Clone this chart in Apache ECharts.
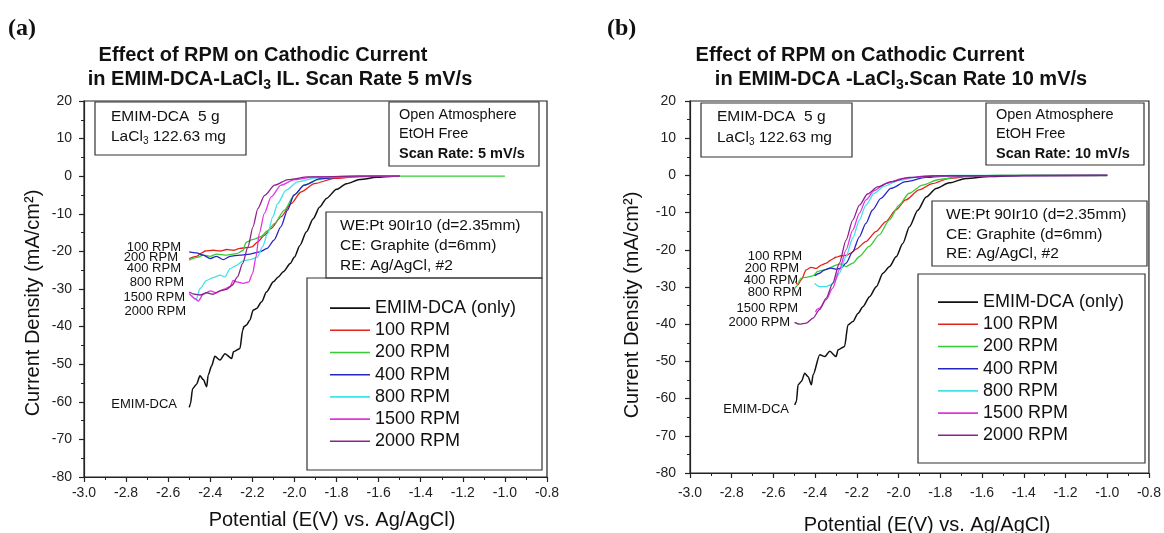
<!DOCTYPE html>
<html>
<head>
<meta charset="utf-8">
<script src="https://cdn.jsdelivr.net/npm/echarts@6/dist/echarts.min.js"></script>
<style>html,body{margin:0;padding:0;background:#fff}#c{width:1164px;height:533px}</style>
</head>
<body>
<div id="c"></div>
<script>
// ---------- data ----------
const NAMES = ['EMIM-DCA (only)', '100 RPM', '200 RPM', '400 RPM', '800 RPM', '1500 RPM', '2000 RPM'];
const COLORS = ['#111111', '#e5211d', '#35cc35', '#2525c4', '#3fe3e8', '#e233e2', '#8c238c'];
const X_TICKS = { min: -3.0, max: -0.8, interval: 0.2 };
const Y_TICKS = { min: -80, max: 20, interval: 10 };

// Panel (a): 5 mV/s
const A_EMIM = [[-2.50,-61.5],[-2.494,-60.5],[-2.484,-56.5],[-2.465,-55.3],[-2.449,-53.1],[-2.433,-54.1],[-2.417,-56.0],[-2.41,-52.9],[-2.394,-50.5],[-2.378,-47.9],[-2.354,-48.9],[-2.33,-47.2],[-2.298,-48.5],[-2.29,-46.7],[-2.259,-45.8],[-2.246,-41.0],[-2.240,-40.0],[-2.228,-39.6],[-2.212,-38.3],[-2.196,-35.6],[-2.18,-35.2],[-2.156,-33.4],[-2.133,-30.8],[-2.10,-28.1],[-2.077,-26.8],[-2.053,-25.4],[-2.02,-23.2],[-2.0,-21.5],[-1.974,-18.4],[-1.943,-14.8],[-1.911,-11.3],[-1.88,-8.2],[-1.848,-5.9],[-1.80,-3.5],[-1.753,-2.0],[-1.69,-0.9],[-1.61,-0.3],[-1.53,0],[-1.5,0]];
const A_100 = [[-2.5,-21.9],[-2.465,-21.3],[-2.44,-20.4],[-2.425,-19.9],[-2.386,-19.7],[-2.354,-19.9],[-2.322,-19.5],[-2.29,-19.7],[-2.259,-19.2],[-2.227,-19.0],[-2.203,-18.8],[-2.175,-17.5],[-2.143,-15.7],[-2.111,-13.9],[-2.064,-10.8],[-2.016,-7.3],[-1.969,-4.2],[-1.905,-1.95],[-1.81,-0.6],[-1.7,-0.1],[-1.5,0]];
const A_200 = [[-2.5,-22.3],[-2.465,-21.6],[-2.433,-21.0],[-2.4,-21.3],[-2.37,-20.7],[-2.322,-21.0],[-2.275,-20.6],[-2.243,-19.7],[-2.232,-17.8],[-2.227,-17.5],[-2.196,-16.8],[-2.16,-16.1],[-2.127,-14.5],[-2.095,-12.6],[-2.048,-9.0],[-2.0,-5.0],[-1.953,-2.4],[-1.89,-0.9],[-1.8,-0.25],[-1.6,0],[-1.0,0]];
const A_400 = [[-2.5,-20.1],[-2.465,-20.4],[-2.433,-21.0],[-2.4,-21.9],[-2.37,-21.3],[-2.338,-22.2],[-2.306,-21.3],[-2.259,-21.0],[-2.211,-20.7],[-2.164,-20.1],[-2.13,-19.2],[-2.097,-17.0],[-2.065,-13.5],[-2.033,-9.0],[-2.002,-5.0],[-1.954,-2.4],[-1.875,-0.6],[-1.75,-0.1],[-1.5,0]];
const A_800 = [[-2.488,-31.6],[-2.473,-32.8],[-2.465,-32.5],[-2.449,-29.9],[-2.417,-27.7],[-2.386,-27.0],[-2.354,-26.3],[-2.33,-26.8],[-2.306,-24.6],[-2.275,-23.7],[-2.243,-22.5],[-2.211,-22.2],[-2.176,-21.5],[-2.152,-18.8],[-2.127,-15.2],[-2.103,-10.8],[-2.08,-7.3],[-2.04,-3.7],[-1.985,-1.5],[-1.89,-0.35],[-1.7,0],[-1.5,0]];
const A_1500 = [[-2.5,-31.2],[-2.473,-32.5],[-2.457,-33.2],[-2.433,-31.4],[-2.4,-30.5],[-2.37,-31.0],[-2.338,-30.1],[-2.306,-29.4],[-2.291,-27.7],[-2.275,-28.1],[-2.243,-28.5],[-2.217,-28.1],[-2.199,-25.9],[-2.183,-21.5],[-2.167,-15.2],[-2.143,-9.9],[-2.111,-5.5],[-2.064,-2.4],[-2.0,-0.9],[-1.905,-0.2],[-1.7,0],[-1.5,0]];
const A_2000 = [[-2.5,-30.8],[-2.473,-31.4],[-2.449,-31.6],[-2.417,-31.0],[-2.386,-31.4],[-2.354,-30.5],[-2.322,-30.1],[-2.296,-29.0],[-2.271,-26.8],[-2.246,-23.2],[-2.221,-18.8],[-2.197,-13.5],[-2.174,-8.6],[-2.142,-5.1],[-2.094,-2.4],[-2.031,-0.9],[-1.936,-0.2],[-1.7,0],[-1.5,0]];

// Panel (b): 10 mV/s
const B_EMIM = [[-2.498,-61.7],[-2.49,-60.8],[-2.482,-56.3],[-2.466,-55.4],[-2.45,-53.2],[-2.434,-54.1],[-2.418,-56.3],[-2.41,-53.6],[-2.378,-48.2],[-2.354,-48.7],[-2.33,-47.3],[-2.3,-48.7],[-2.29,-46.9],[-2.259,-46.0],[-2.243,-40.2],[-2.219,-39.3],[-2.195,-37.1],[-2.171,-35.3],[-2.139,-32.6],[-2.107,-29.9],[-2.075,-26.3],[-2.043,-24.5],[-2.012,-21.9],[-1.98,-18.3],[-1.948,-13.8],[-1.908,-9.4],[-1.868,-5.8],[-1.82,-3.5],[-1.757,-2.0],[-1.677,-0.8],[-1.565,-0.3],[-1.406,0],[-1.0,0]];
const B_100 = [[-2.495,-28.5],[-2.483,-29.4],[-2.467,-28.1],[-2.443,-25.4],[-2.419,-24.7],[-2.395,-25.0],[-2.371,-24.1],[-2.347,-23.6],[-2.324,-22.7],[-2.30,-22.0],[-2.276,-21.6],[-2.252,-21.5],[-2.228,-20.9],[-2.204,-19.8],[-2.157,-17.8],[-2.109,-15.1],[-2.061,-12.4],[-2.013,-9.3],[-1.966,-6.6],[-1.902,-3.9],[-1.838,-2.2],[-1.759,-0.8],[-1.65,-0.2],[-1.5,0],[-1.0,0]];
const B_200 = [[-2.497,-30.4],[-2.491,-29.9],[-2.467,-27.6],[-2.443,-27.4],[-2.411,-27.0],[-2.387,-25.8],[-2.355,-25.4],[-2.324,-24.7],[-2.30,-24.1],[-2.276,-23.8],[-2.252,-24.5],[-2.22,-23.6],[-2.188,-21.8],[-2.141,-19.1],[-2.093,-16.0],[-2.045,-12.0],[-1.998,-8.0],[-1.95,-4.8],[-1.886,-2.6],[-1.807,-1.1],[-1.7,-0.3],[-1.55,0],[-1.0,0]];
const B_400 = [[-2.403,-27.0],[-2.379,-26.3],[-2.355,-25.4],[-2.324,-24.9],[-2.30,-25.2],[-2.276,-24.9],[-2.252,-23.6],[-2.22,-20.5],[-2.188,-16.5],[-2.157,-12.9],[-2.125,-9.3],[-2.085,-6.2],[-2.037,-3.5],[-1.966,-1.7],[-1.87,-0.55],[-1.75,-0.1],[-1.0,0]];
const B_800 = [[-2.403,-29.0],[-2.379,-29.9],[-2.347,-29.9],[-2.324,-29.4],[-2.308,-28.5],[-2.284,-26.3],[-2.252,-21.8],[-2.22,-16.9],[-2.188,-12.0],[-2.157,-8.0],[-2.117,-4.8],[-2.069,-2.9],[-1.998,-1.3],[-1.902,-0.4],[-1.75,0],[-1.0,0]];
const B_1500 = [[-2.398,-36.8],[-2.392,-36.0],[-2.379,-35.7],[-2.347,-33.4],[-2.316,-30.3],[-2.284,-25.4],[-2.252,-20.0],[-2.22,-14.7],[-2.188,-10.2],[-2.157,-6.6],[-2.117,-4.1],[-2.061,-2.2],[-1.982,-0.8],[-1.85,-0.1],[-1.0,0]];
const B_2000 = [[-2.499,-39.5],[-2.475,-40.0],[-2.443,-39.7],[-2.411,-38.4],[-2.379,-36.1],[-2.347,-33.0],[-2.316,-29.0],[-2.284,-23.6],[-2.252,-17.4],[-2.22,-12.0],[-2.188,-8.0],[-2.149,-5.0],[-2.101,-3.1],[-2.037,-1.7],[-1.95,-0.55],[-1.8,-0.1],[-1.0,0]];

const PANEL_A = [A_EMIM, A_100, A_200, A_400, A_800, A_1500, A_2000];
const PANEL_B = [B_EMIM, B_100, B_200, B_400, B_800, B_1500, B_2000];

// ---------- chart ----------
const FF = "'Liberation Sans', Arial, sans-serif";
const chart = echarts.init(document.getElementById('c'), null, { renderer: 'canvas' });

function xAxis(gi, margin) {
  return {
    type: 'value', gridIndex: gi, min: X_TICKS.min, max: X_TICKS.max, interval: X_TICKS.interval,
    axisLine: { show: true, onZero: false, lineStyle: { color: '#222', width: 1.2 } },
    axisTick: { show: true, inside: false, length: 5, lineStyle: { color: '#222', width: 1.2 } },
    minorTick: { show: true, splitNumber: 2, length: 3, lineStyle: { color: '#222', width: 1 } },
    splitLine: { show: false },
    axisLabel: { color: '#222', fontSize: 14, fontFamily: FF, margin: margin,
      formatter: v => v.toFixed(1) }
  };
}
function yAxis(gi, margin) {
  return {
    type: 'value', gridIndex: gi, min: Y_TICKS.min, max: Y_TICKS.max, interval: Y_TICKS.interval,
    axisLine: { show: true, onZero: false, lineStyle: { color: '#222', width: 1.2 } },
    axisTick: { show: true, inside: false, length: 5, lineStyle: { color: '#222', width: 1.2 } },
    minorTick: { show: true, splitNumber: 2, length: 3, lineStyle: { color: '#222', width: 1 } },
    splitLine: { show: false },
    axisLabel: { color: '#222', fontSize: 14, fontFamily: FF, margin: margin }
  };
}

const series = [];
[PANEL_A, PANEL_B].forEach((panel, gi) => {
  panel.forEach((data, i) => {
    series.push({
      type: 'line', name: NAMES[i], xAxisIndex: gi, yAxisIndex: gi, data: data,
      symbol: 'none', smooth: 0.25, smoothMonotone: 'x', animation: false,
      lineStyle: { color: COLORS[i], width: i === 0 ? 1.5 : 1.3 },
      itemStyle: { color: COLORS[i] }
    });
  });
});

function txt(x, y, text, opts) {
  opts = opts || {};
  return {
    type: 'text', x: x, y: y, rotation: opts.rotation || 0, silent: true,
    style: {
      text: text, fill: '#111', fontSize: opts.size || 14, fontFamily: opts.family || FF,
      fontWeight: opts.weight || 'normal', align: opts.align || 'left', verticalAlign: 'middle',
      rich: opts.rich
    }
  };
}
function box(x1, y1, x2, y2) {
  return { type: 'rect', silent: true, shape: { x: x1, y: y1, width: x2 - x1, height: y2 - y1 },
    style: { fill: 'none', stroke: '#333', lineWidth: 1.2 } };
}
const subRich = (size) => ({ s: { fontSize: size, fontFamily: FF, fill: '#111', padding: [Math.round(size * 0.9), 0, 0, 0] } });
const subRichB = (size) => ({ s: { fontSize: size, fontFamily: FF, fontWeight: 'bold', fill: '#111', padding: [Math.round(size * 0.9), 0, 0, 0] } });

const graphics = [
  // panel letters
  txt(8, 29, '(a)', { size: 24, family: "'Liberation Serif', 'Times New Roman', serif", weight: 'bold' }),
  txt(607, 29, '(b)', { size: 24, family: "'Liberation Serif', 'Times New Roman', serif", weight: 'bold' }),
  // titles
  txt(263, 55, 'Effect of RPM on Cathodic Current', { size: 20, weight: 'bold', align: 'center' }),
  txt(280, 79, 'in EMIM-DCA-LaCl{s|3} IL. Scan Rate 5 mV/s', { size: 20, weight: 'bold', align: 'center', rich: subRichB(14) }),
  txt(860, 55, 'Effect of RPM on Cathodic Current', { size: 20, weight: 'bold', align: 'center' }),
  txt(901, 79, 'in EMIM-DCA -LaCl{s|3}.Scan Rate 10 mV/s', { size: 20, weight: 'bold', align: 'center', rich: subRichB(14) }),
  // axis titles
  txt(33, 303, 'Current Density (mA/cm\u00B2)', { size: 20, align: 'center', rotation: Math.PI / 2 }),
  txt(632, 305, 'Current Density (mA/cm\u00B2)', { size: 20, align: 'center', rotation: Math.PI / 2 }),
  txt(332, 520, 'Potential (E(V) vs. Ag/AgCl)', { size: 20, align: 'center' }),
  txt(927, 525, 'Potential (E(V) vs. Ag/AgCl)', { size: 20, align: 'center' }),

  // panel (a) boxes
  box(95, 102, 246, 155),
  txt(111, 117, 'EMIM-DCA  5 g', { size: 15.5 }),
  txt(111, 137, 'LaCl{s|3} 122.63 mg', { size: 15.5, rich: subRich(10) }),
  box(389, 102, 539, 166),
  txt(399, 115, 'Open Atmosphere', { size: 14.5 }),
  txt(399, 134, 'EtOH Free', { size: 14.5 }),
  txt(399, 154, 'Scan Rate: 5 mV/s', { size: 14.5, weight: 'bold' }),
  box(326, 212, 542, 278),
  txt(340, 226, 'WE:Pt 90Ir10 (d=2.35mm)', { size: 15.5 }),
  txt(340, 246, 'CE: Graphite (d=6mm)', { size: 15.5 }),
  txt(340, 266, 'RE: Ag/AgCl, #2', { size: 15.5 }),
  box(307, 278, 542, 470),
  // panel (a) curve labels
  txt(181, 247, '100 RPM', { size: 13, align: 'right' }),
  txt(178, 257, '200 RPM', { size: 13, align: 'right' }),
  txt(181, 268, '400 RPM', { size: 13, align: 'right' }),
  txt(184, 282, '800 RPM', { size: 13, align: 'right' }),
  txt(185, 297, '1500 RPM', { size: 13, align: 'right' }),
  txt(186, 311, '2000 RPM', { size: 13, align: 'right' }),
  txt(177, 404, 'EMIM-DCA', { size: 13, align: 'right' }),

  // panel (b) boxes
  box(701, 103, 852, 157),
  txt(717, 117, 'EMIM-DCA  5 g', { size: 15.5 }),
  txt(717, 138, 'LaCl{s|3} 122.63 mg', { size: 15.5, rich: subRich(10) }),
  box(986, 103, 1144, 165),
  txt(996, 115, 'Open Atmosphere', { size: 14.5 }),
  txt(996, 134, 'EtOH Free', { size: 14.5 }),
  txt(996, 154, 'Scan Rate: 10 mV/s', { size: 14.5, weight: 'bold' }),
  box(932, 201, 1147, 266),
  txt(946, 215, 'WE:Pt 90Ir10 (d=2.35mm)', { size: 15.5 }),
  txt(946, 235, 'CE: Graphite (d=6mm)', { size: 15.5 }),
  txt(946, 254, 'RE: Ag/AgCl, #2', { size: 15.5 }),
  box(918, 274, 1145, 463),
  // panel (b) curve labels
  txt(802, 256, '100 RPM', { size: 13, align: 'right' }),
  txt(799, 268, '200 RPM', { size: 13, align: 'right' }),
  txt(798, 280, '400 RPM', { size: 13, align: 'right' }),
  txt(802, 292, '800 RPM', { size: 13, align: 'right' }),
  txt(798, 308, '1500 RPM', { size: 13, align: 'right' }),
  txt(790, 322, '2000 RPM', { size: 13, align: 'right' }),
  txt(789, 409, 'EMIM-DCA', { size: 13, align: 'right' })
];

function legend(left, top) {
  return {
    data: NAMES, left: left, top: top, orient: 'vertical', selectedMode: false,
    icon: 'rect', itemWidth: 40, itemHeight: 1.6, itemGap: 0, padding: 0,
    textStyle: { fontSize: 18, fontFamily: FF, color: '#111', lineHeight: 22.2 }
  };
}

chart.setOption({
  animation: false,
  backgroundColor: '#fff',
  grid: [
    { left: 84, top: 101, width: 463, height: 376, show: true, borderColor: '#222', borderWidth: 1.2, backgroundColor: 'transparent' },
    { left: 690, top: 101, width: 461, height: 372, show: true, borderColor: '#222', borderWidth: 1.2, backgroundColor: 'transparent' }
  ],
  xAxis: [xAxis(0, 9), xAxis(1, 13)],
  yAxis: [yAxis(0, 12), yAxis(1, 14)],
  legend: [legend(330, 297), legend(938, 291)],
  series: series,
  graphic: graphics
});
</script>
</body>
</html>
